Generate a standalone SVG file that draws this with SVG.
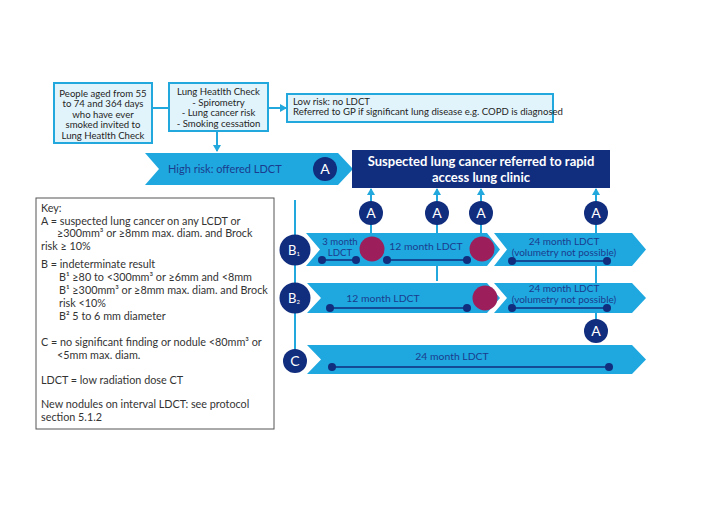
<svg xmlns="http://www.w3.org/2000/svg" width="728" height="514" viewBox="0 0 728 514">
<defs>
<style>
.box{fill:#e2f4fb;stroke:#22a8dc;stroke-width:2}
.t{font-family:Lato,"Liberation Sans",sans-serif;font-size:9.6px;fill:#1f1f1f}
.k{font-family:Lato,"Liberation Sans",sans-serif;font-size:10.8px;fill:#333}
.ct{font-family:Lato,"Liberation Sans",sans-serif;font-size:10.4px;fill:#1b3c8e;text-anchor:middle}
.cs{font-family:Lato,"Liberation Sans",sans-serif;font-size:9.6px;fill:#1b3c8e;text-anchor:middle}
.chev{fill:#1fa8df}
.navy{fill:#112d7e}
.red{fill:#9c1f5b}
.wl{font-family:Lato,"Liberation Sans",sans-serif;fill:#fff;text-anchor:middle}
.ln{stroke:#22a8dc;stroke-width:2;fill:none}
.dl{stroke:#112d7e;stroke-width:1.6;fill:none}
</style>
<marker id="ah" markerWidth="8" markerHeight="8" refX="6" refY="4" orient="auto" markerUnits="userSpaceOnUse">
<path d="M0,0 L7,4 L0,8 Z" fill="#22a8dc"/>
</marker>
</defs>
<rect width="728" height="514" fill="#fff"/>

<g id="connectors">
<line class="ln" x1="152" y1="108" x2="169" y2="108"/>
<line class="ln" x1="268" y1="108" x2="286" y2="108" marker-end="url(#ah)"/>
<line class="ln" x1="217" y1="131" x2="217" y2="151" marker-end="url(#ah)"/>
<line class="ln" x1="295" y1="200" x2="295" y2="360"/>
<line class="ln" x1="371" y1="240" x2="371" y2="189" marker-end="url(#ah)"/>
<line class="ln" x1="437" y1="281" x2="437" y2="189" marker-end="url(#ah)"/>
<line class="ln" x1="481" y1="240" x2="481" y2="189" marker-end="url(#ah)"/>
<line class="ln" x1="596" y1="325" x2="596" y2="189" marker-end="url(#ah)"/>
</g>

<g id="start">
<rect class="box" x="54" y="83" width="98" height="60"/>
<text class="t" text-anchor="middle"><tspan x="103" y="96.5">People aged from 55</tspan><tspan x="103" y="107">to 74 and 364 days</tspan><tspan x="103" y="117.5">who have ever</tspan><tspan x="103" y="128">smoked invited to</tspan><tspan x="103" y="138.5">Lung Heatlth Check</tspan></text>
</g>

<g id="lhc">
<rect class="box" x="169" y="83" width="99" height="48"/>
<text class="t" text-anchor="middle"><tspan x="218.5" y="95">Lung Heatlth Check</tspan><tspan x="218.5" y="105.5">- Spirometry</tspan><tspan x="218.5" y="116">- Lung cancer risk</tspan><tspan x="218.5" y="126.5">- Smoking cessation</tspan></text>
</g>

<g id="lowrisk">
<rect class="box" x="287" y="94" width="266" height="28"/>
<text class="t"><tspan x="293" y="104.5">Low risk: no LDCT</tspan><tspan x="293" y="115">Referred to GP if significant lung disease e.g. COPD is diagnosed</tspan></text>
</g>

<g id="highrisk">
<polygon class="chev" points="145,153 338,153 353,169 338,185 145,185 159,169"/>
<text class="ct" x="168" y="173" style="text-anchor:start;font-size:11px">High risk: offered LDCT</text>
<circle class="navy" cx="325" cy="169" r="12"/>
<text class="wl" x="325" y="174" font-size="14">A</text>
</g>

<g id="clinic">
<rect class="navy" x="352" y="150" width="258" height="38"/>
<text class="wl" font-size="13" font-weight="bold"><tspan x="481" y="166">Suspected lung cancer referred to rapid</tspan><tspan x="481" y="182">access lung clinic</tspan></text>
</g>

<g id="key">
<rect x="36" y="198" width="238" height="231" fill="#fff" stroke="#555" stroke-width="1"/>
<text class="k">
<tspan x="41" y="212">Key:</tspan>
<tspan x="41" y="224.5">A = suspected lung cancer on any LCDT or</tspan>
<tspan x="57" y="237">≥300mm³ or ≥8mm max. diam. and Brock</tspan>
<tspan x="41" y="249.5">risk ≥ 10%</tspan>
<tspan x="41" y="268">B = indeterminate result</tspan>
<tspan x="59" y="281">B¹ ≥80 to &lt;300mm³ or ≥6mm and &lt;8mm</tspan>
<tspan x="59" y="294">B¹ ≥300mm³ or ≥8mm max. diam. and Brock</tspan>
<tspan x="59" y="307">risk &lt;10%</tspan>
<tspan x="59" y="320">B² 5 to 6 mm diameter</tspan>
<tspan x="41" y="346">C = no significant finding or nodule &lt;80mm³ or</tspan>
<tspan x="57" y="358.5">&lt;5mm max. diam.</tspan>
<tspan x="41" y="384">LDCT = low radiation dose CT</tspan>
<tspan x="41" y="408">New nodules on interval LDCT: see protocol</tspan>
<tspan x="41" y="420.5">section 5.1.2</tspan>
</text>
</g>

<g id="rowB1">
<polygon class="chev" points="306,233 487,233 500,249.5 487,266 306,266 320,249.5"/>
<polygon class="chev" points="494,233 632,233 646,249.5 632,266 494,266 507,249.5"/>
<text class="cs"><tspan x="340" y="245">3 month</tspan><tspan x="340" y="255.5">LDCT</tspan></text>
<line class="dl" x1="322" y1="260" x2="356" y2="260"/>
<circle class="navy" cx="322" cy="260" r="4"/>
<circle class="navy" cx="356" cy="260" r="4"/>
<circle class="red" cx="372" cy="249" r="12.5"/>
<text class="ct" x="426" y="250">12 month LDCT</text>
<line class="dl" x1="387" y1="260" x2="467" y2="260"/>
<circle class="navy" cx="387" cy="260" r="4"/>
<circle class="navy" cx="467" cy="260" r="4"/>
<circle class="red" cx="482" cy="249" r="12.5"/>
<text class="cs" style="font-size:10px"><tspan x="564" y="245">24 month LDCT</tspan><tspan x="564" y="255.5">(volumetry not possible)</tspan></text>
<line class="dl" x1="512" y1="261" x2="607" y2="261"/>
<circle class="navy" cx="512" cy="261" r="4"/>
<circle class="navy" cx="607" cy="261" r="4"/>
</g>

<g id="rowB2">
<polygon class="chev" points="307,283 487,283 500,298 487,313 307,313 321,298"/>
<polygon class="chev" points="494,283 632,283 646,298 632,313 494,313 507,298"/>
<text class="ct" x="383" y="302">12 month LDCT</text>
<line class="dl" x1="330" y1="308" x2="467" y2="308"/>
<circle class="navy" cx="330" cy="308" r="4"/>
<circle class="navy" cx="467" cy="308" r="4"/>
<circle class="red" cx="485" cy="298" r="12.5"/>
<text class="cs" style="font-size:10px"><tspan x="564" y="292">24 month LDCT</tspan><tspan x="564" y="303">(volumetry not possible)</tspan></text>
<line class="dl" x1="512" y1="308" x2="607" y2="308"/>
<circle class="navy" cx="512" cy="308" r="4"/>
<circle class="navy" cx="607" cy="308" r="4"/>
</g>

<g id="rowC">
<polygon class="chev" points="307,345 632,345 646,359.5 632,374 307,374 321,359.5"/>
<text class="ct" x="452" y="360">24 month LDCT</text>
<line class="dl" x1="332" y1="367" x2="609" y2="367"/>
<circle class="navy" cx="332" cy="367" r="4"/>
<circle class="navy" cx="609" cy="367" r="4"/>
</g>

<g id="A1"><circle class="navy" cx="371" cy="213" r="12"/><text class="wl" x="371" y="218" font-size="14">A</text></g>
<g id="A2"><circle class="navy" cx="437" cy="213" r="12"/><text class="wl" x="437" y="218" font-size="14">A</text></g>
<g id="A3"><circle class="navy" cx="481" cy="213" r="12"/><text class="wl" x="481" y="218" font-size="14">A</text></g>
<g id="A4"><circle class="navy" cx="596" cy="213" r="12"/><text class="wl" x="596" y="218" font-size="14">A</text></g>
<g id="A5"><circle class="navy" cx="596" cy="331" r="12"/><text class="wl" x="596" y="336" font-size="14">A</text></g>

<g id="B1"><circle class="navy" cx="295" cy="250" r="15.5"/><text class="wl" x="294" y="255" font-size="13">B<tspan font-size="6" dy="1">1</tspan></text></g>
<g id="B2"><circle class="navy" cx="295" cy="298" r="15.5"/><text class="wl" x="294" y="303" font-size="13">B<tspan font-size="6" dy="1">2</tspan></text></g>
<g id="C"><circle class="navy" cx="295" cy="361" r="12"/><text class="wl" x="295" y="366" font-size="14">C</text></g>
</svg>
